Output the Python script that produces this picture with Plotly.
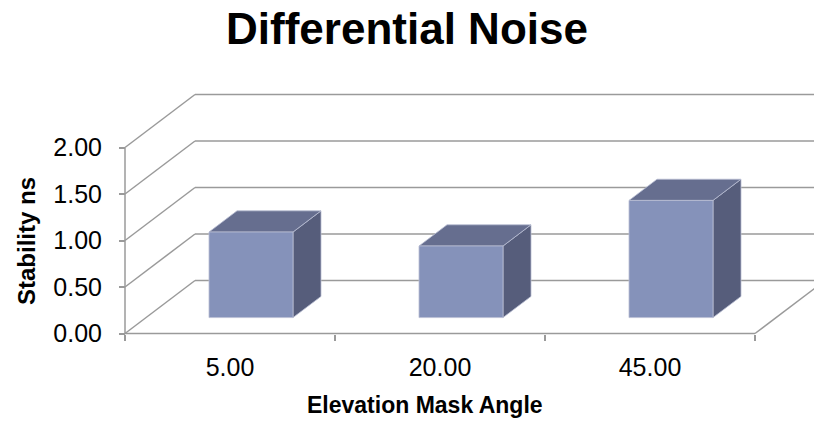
import plotly.graph_objects as go

# ---- data -------------------------------------------------------------
categories = ["5.00", "20.00", "45.00"]          # elevation mask angle
stability_ns = [0.92, 0.77, 1.26]               # differential noise
y_ticks = [0.0, 0.5, 1.0, 1.5, 2.0]

# ---- page / projection setup -------------------------------------------
W, H = 814, 421
M_L, M_R, M_T, M_B = 112, 0, 85, 76
PX_X = 210.0        # pixels per category slot
PX_Y = 93.0         # pixels per ns
AXIS_PX = 125       # left edge of the floor (pixels)
ZERO_PX = 333.5     # front floor line (pixels from top)

DEPTH_X = 70 / PX_X  # full box depth, horizontal component (data units)
DEPTH_Y = 53 / PX_Y  # full box depth, vertical component (data units)
BAR_W = 0.4
BAR_Z0, BAR_Z1 = 0.3, 0.7

GRID = "#9a9a9a"
FRONT = "#8592BA"
TOP = "#666E8F"
SIDE = "#565D7B"
EDGE = "#B9BED3"
FONT = "Liberation Sans, Arial, sans-serif"

plot_w = W - M_L - M_R
plot_h = H - M_T - M_B
x0 = -0.5 - (AXIS_PX - M_L) / PX_X
x1 = x0 + plot_w / PX_X
y1 = (ZERO_PX - M_T) / PX_Y
y0 = y1 - plot_h / PX_Y

x_left = -0.5
x_right = len(categories) - 0.5
y_top = max(y_ticks)


def proj(x, y, z):
    """Oblique projection of a point at depth z (0 = front, 1 = back)."""
    return x + z * DEPTH_X, y + z * DEPTH_Y


fig = go.Figure()

# ---- walls: left-wall diagonals, back-wall lines, floor edges ----------
gx, gy = [], []
for v in y_ticks:
    bx, by = proj(x_left, v, 1)
    gx += [x_left, bx, None]
    gy += [v, by, None]
    ex, ey = proj(x_right + 1, v, 1)
    gx += [bx, ex, None]
    gy += [by, ey, None]
# right floor edge
rx, ry = proj(x_right, 0, 1)
gx += [x_right, rx, None]
gy += [0, ry, None]
# front floor line and value axis line
gx += [x_left, x_right, None, x_left, x_left]
gy += [0, 0, None, 0, y_top]
fig.add_trace(go.Scatter(x=gx, y=gy, mode="lines",
                         line=dict(color=GRID, width=1.5),
                         hoverinfo="skip", showlegend=False))

# ---- 3-D columns --------------------------------------------------------
for i, val in enumerate(stability_ns):
    xl = i - BAR_W / 2
    xr = i + BAR_W / 2
    fl = [proj(xl, 0, BAR_Z0), proj(xr, 0, BAR_Z0),
          proj(xr, val, BAR_Z0), proj(xl, val, BAR_Z0)]
    bk = [proj(xl, 0, BAR_Z1), proj(xr, 0, BAR_Z1),
          proj(xr, val, BAR_Z1), proj(xl, val, BAR_Z1)]
    faces = [
        ([fl[1], bk[1], bk[2], fl[2]], SIDE),
        ([fl[3], fl[2], bk[2], bk[3]], TOP),
        (fl, FRONT),
    ]
    for pts, col in faces:
        xs = [p[0] for p in pts] + [pts[0][0]]
        ys = [p[1] for p in pts] + [pts[0][1]]
        fig.add_trace(go.Scatter(x=xs, y=ys, mode="lines", fill="toself",
                                 fillcolor=col,
                                 line=dict(color=EDGE, width=0.8),
                                 hoverinfo="skip", showlegend=False))

x_axis_pos = (0 - y0) / (y1 - y0)
y_axis_pos = (AXIS_PX - M_L) / plot_w

fig.update_layout(
    width=W, height=H,
    margin=dict(l=M_L, r=M_R, t=M_T, b=M_B),
    paper_bgcolor="white", plot_bgcolor="white",
    font=dict(family=FONT, color="black"),
    showlegend=False,
    title=dict(text="<b>Differential Noise</b>",
               font=dict(family=FONT, size=44, color="black"),
               x=0.5, xanchor="center", xref="container",
               y=1 - 29 / H, yanchor="middle", yref="container"),
    xaxis=dict(range=[x0, x1], tickmode="array",
               tickvals=list(range(len(categories))), ticktext=categories,
               ticks="", showgrid=False, zeroline=False, showline=False,
               anchor="free", position=x_axis_pos,
               ticklabelstandoff=16,
               tickfont=dict(family=FONT, size=25, color="black"),
               minor=dict(tickmode="array",
                          tickvals=[k - 0.5 for k in range(len(categories) + 1)],
                          ticks="outside", ticklen=6, tickwidth=1.5,
                          tickcolor=GRID, showgrid=False)),
    yaxis=dict(range=[y0, y1], tickmode="array", tickvals=y_ticks,
               tickformat=".2f", ticks="outside", ticklen=6, tickwidth=1.5,
               tickcolor=GRID, showgrid=False, zeroline=False, showline=False,
               anchor="free", position=y_axis_pos,
               ticklabelstandoff=12,
               tickfont=dict(family=FONT, size=25, color="black")),
    annotations=[
        dict(text="<b>Stability ns</b>", textangle=-90,
             xref="paper", yref="paper", x=(26 - M_L) / plot_w,
             y=(H - M_B - 241) / plot_h,
             xanchor="center", yanchor="middle", showarrow=False,
             font=dict(family=FONT, size=24, color="black")),
        dict(text="<b>Elevation Mask Angle</b>",
             xref="paper", yref="paper", x=(425 - M_L) / plot_w,
             y=(H - M_B - 405) / plot_h,
             xanchor="center", yanchor="middle", showarrow=False,
             font=dict(family=FONT, size=23, color="black")),
    ],
)

fig.write_html("out.html")
